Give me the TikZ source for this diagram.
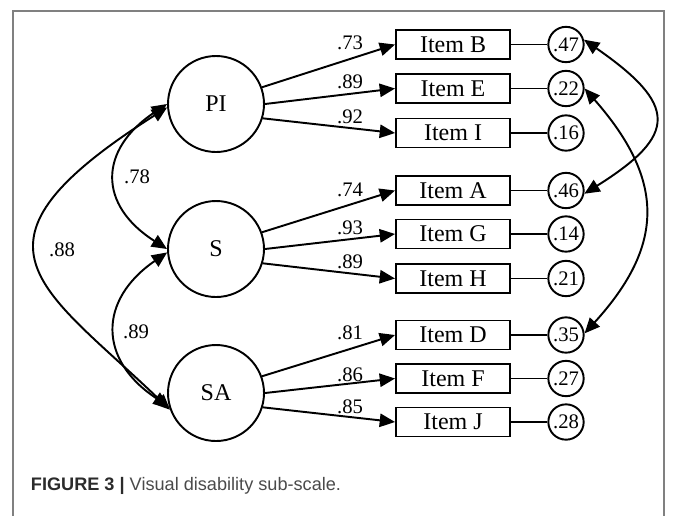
\documentclass[tikz,border=0pt]{standalone}
\usepackage{fontspec}
\setmainfont{Liberation Serif}
\newfontfamily\capfont{Liberation Sans}
\usetikzlibrary{arrows.meta}
\definecolor{framegray}{HTML}{808080}
\definecolor{capdark}{HTML}{2B2B2B}
\definecolor{capgray}{HTML}{4A4A4A}
\begin{document}
\begin{tikzpicture}[x=0.75pt,y=-0.75pt, line width=1.45pt,
  latent/.style={draw, circle, minimum size=72pt, inner sep=0pt, font=\fontsize{18}{18}\selectfont},
  itembox/.style={draw, rectangle, minimum width=85.5pt, minimum height=21.75pt, inner sep=0pt, font=\fontsize{18}{18}\selectfont},
  err/.style={draw, circle, minimum size=26.5pt, inner sep=0pt, font=\fontsize{15.5}{15.5}\selectfont},
  lbl/.style={font=\fontsize{15.5}{15.5}\selectfont, inner sep=0pt},
  load/.style={-{Triangle[length=11.5pt,width=10pt]}},
  cov/.style={{Triangle[length=11.5pt,width=10pt]}-{Triangle[length=11.5pt,width=10pt]}},
  link/.style={line width=1.2pt},
]
\useasboundingbox (0,0) rectangle (673,515);
\draw[framegray, line width=0.8pt] (13,516) -- (13,11) -- (664,11) -- (664,516);

% latent variables
\node[latent] (PI) at (216,104) {PI};
\node[latent] (S)  at (216,249) {S};
\node[latent] (SA) at (216,393) {SA};

% items
\node[itembox] (iB) at (453,44.5) {Item B};
\node[itembox] (iE) at (453,88.5) {Item E};
\node[itembox] (iI) at (453,133) {Item I};
\node[itembox] (iA) at (453,190.5) {Item A};
\node[itembox] (iG) at (453,234) {Item G};
\node[itembox] (iH) at (453,278.5) {Item H};
\node[itembox] (iD) at (453,335) {Item D};
\node[itembox] (iF) at (453,378.5) {Item F};
\node[itembox] (iJ) at (453,422) {Item J};

% error terms
\node[err] (eB) at (566,44.5) {.47};
\node[err] (eE) at (566,88.5) {.22};
\node[err] (eI) at (566,133) {.16};
\node[err] (eA) at (566,190.5) {.46};
\node[err] (eG) at (566,234) {.14};
\node[err] (eH) at (566,278.5) {.21};
\node[err] (eD) at (566,335) {.35};
\node[err] (eF) at (566,378.5) {.27};
\node[err] (eJ) at (566,422) {.28};

\foreach \n in {B,E,I,A,G,H,D,F,J} \draw[link] (i\n.east) -- (e\n.west);

% loadings
\draw[load] (PI.20) -- (iB.west);
\draw[load] (PI.0) -- (iE.west);
\draw[load] (PI.-17) -- (iI.west);
\draw[load] (S.20) -- (iA.west);
\draw[load] (S.0) -- (iG.west);
\draw[load] (S.-17) -- (iH.west);
\draw[load] (SA.20) -- (iD.west);
\draw[load] (SA.0) -- (iF.west);
\draw[load] (SA.-17) -- (iJ.west);

\node[lbl] (l1) at (350,43) {.73};
\node[lbl] (l2) at (350,82) {.89};
\node[lbl] (l3) at (350,117) {.92};
\node[lbl] (l4) at (350,190) {.74};
\node[lbl] (l5) at (350,228) {.93};
\node[lbl] (l6) at (350,262) {.89};
\node[lbl] (l7) at (350,333) {.81};
\node[lbl] (l8) at (350,375) {.86};
\node[lbl] (l9) at (350,407) {.85};

% factor correlations
\draw[cov] (PI.180) .. controls (98,150) and (98,205) .. (S.180);
\draw[cov] (PI.184) .. controls (-50,245) and (40,285) .. (SA.200);
\draw[cov] (S.184) .. controls (98,300) and (98,360) .. (SA.196);
\node[lbl] (c1) at (137,177) {.78};
\node[lbl] (c2) at (62,250) {.88};
\node[lbl] (c3) at (136,332) {.89};

% error correlations
\draw[cov] (eB.15) .. controls (678,105) and (678,135) .. (eA.-10);
\draw[cov] (eE.0) .. controls (665,180) and (665,245) .. (eD.5);

% caption
\node[anchor=base west, inner sep=0pt, font=\capfont\fontsize{13.6}{13.6}\selectfont] (cap) at (30,490)
  {{\color{capdark}\bfseries FIGURE 3 |} {\color{capgray}Visual disability sub-scale.}};
\end{tikzpicture}
\end{document}
